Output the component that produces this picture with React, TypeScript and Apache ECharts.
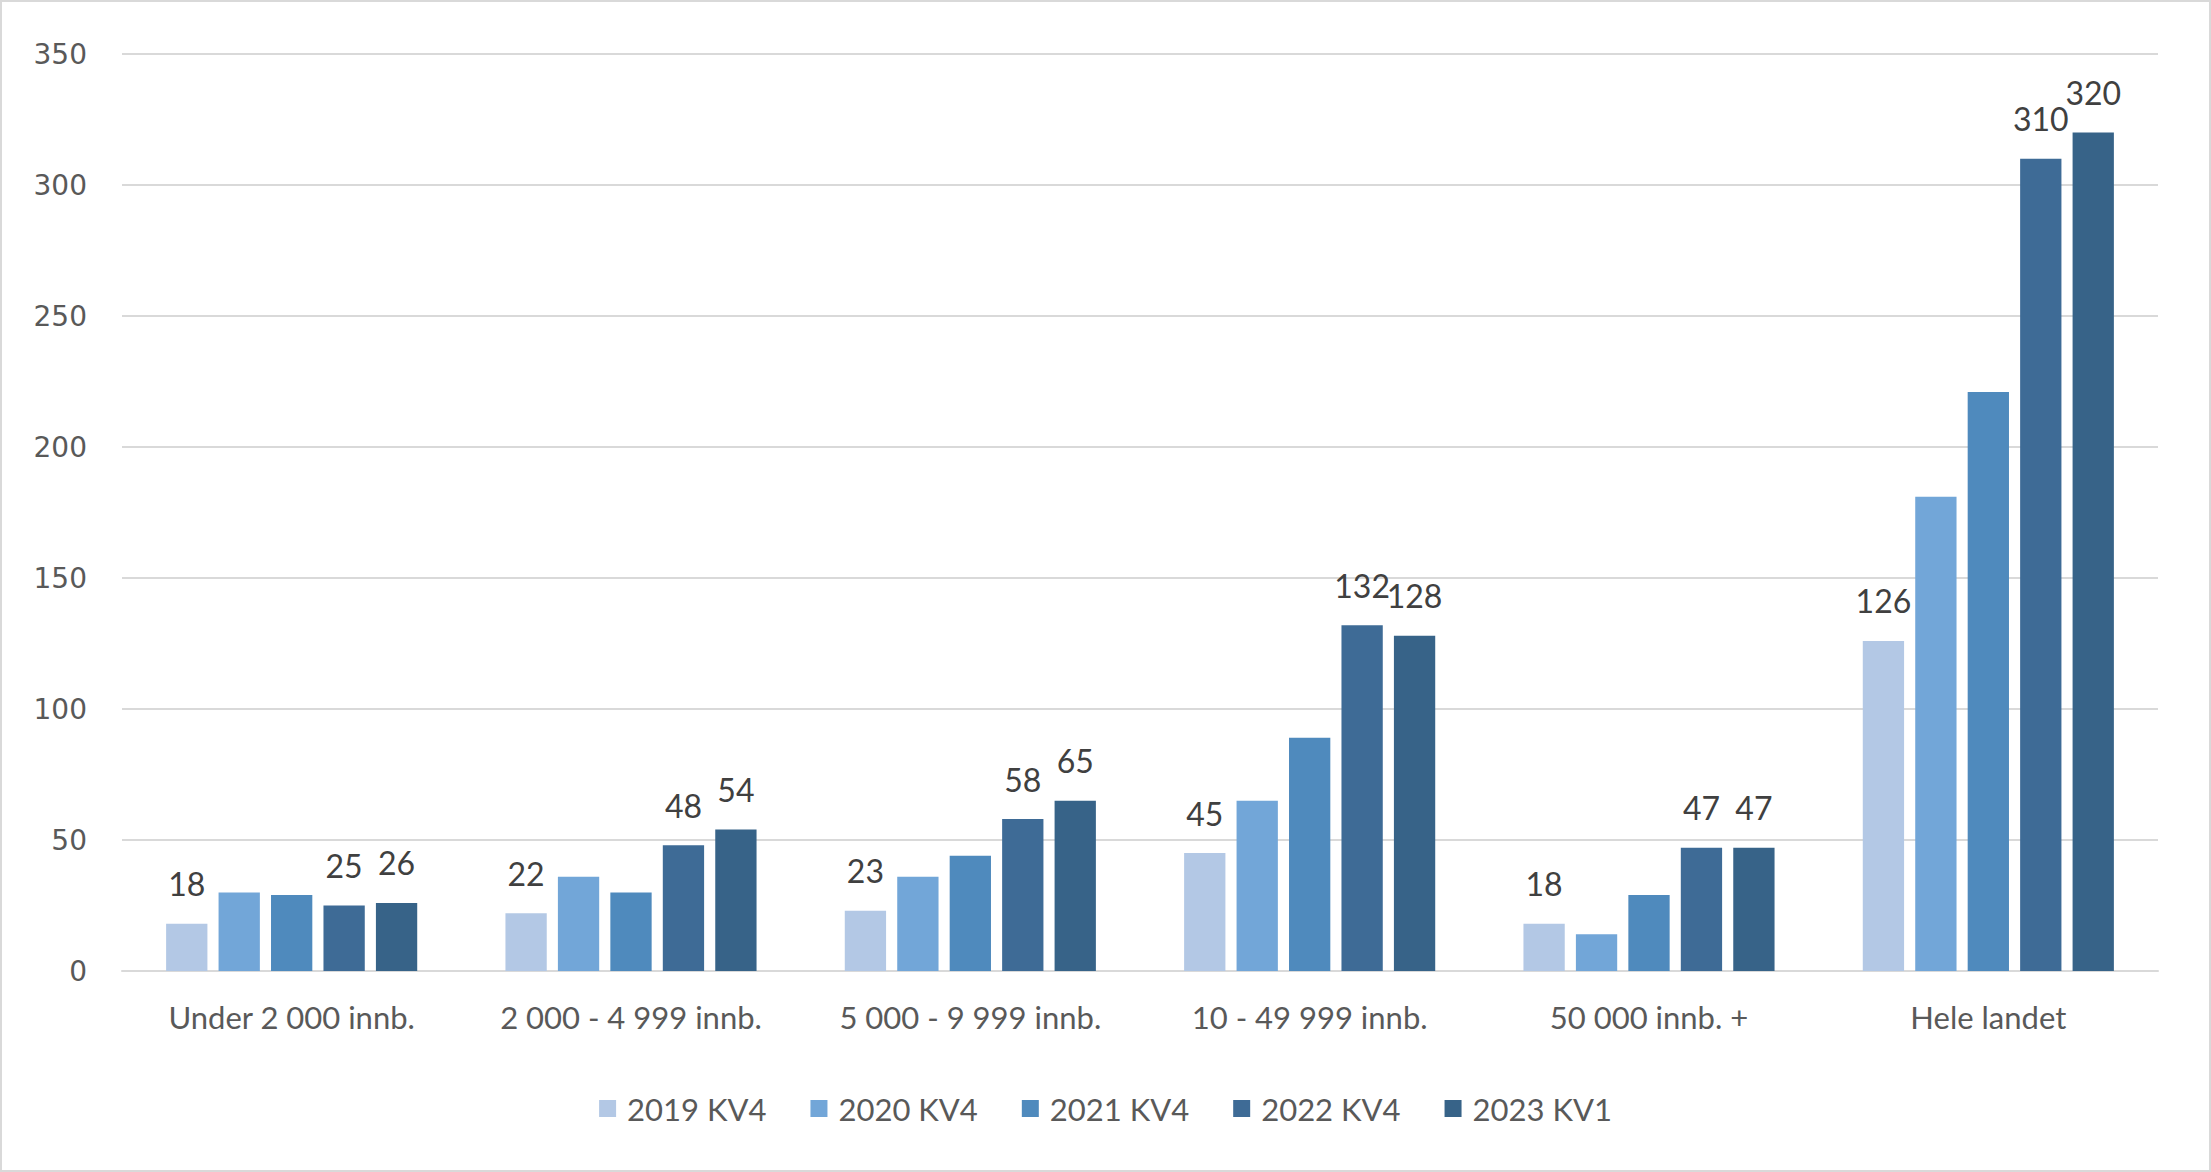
import React, { useEffect, useRef } from "react";
import * as echarts from "echarts";

const categories = [
  "Under 2 000 innb.",
  "2 000 - 4 999 innb.",
  "5 000 - 9 999 innb.",
  "10 - 49 999 innb.",
  "50 000 innb. +",
  "Hele landet",
];
const seriesNames = ["2019 KV4", "2020 KV4", "2021 KV4", "2022 KV4", "2023 KV1"];
const values2019 = [18, 22, 23, 45, 18, 126];
const values2020 = [30, 36, 36, 65, 14, 181];
const values2021 = [29, 30, 44, 89, 29, 221];
const values2022 = [25, 48, 58, 132, 47, 310];
const values2023 = [26, 54, 65, 128, 47, 320];
const allValues = [values2019, values2020, values2021, values2022, values2023];
const showLabels = [true, false, false, true, true];
const colors = ["#b3c8e5", "#72a6d8", "#4f8abd", "#3e6b96", "#376388"];
const yTicks = { min: 0, max: 350, interval: 50 };

export default function App() {
  const ref = useRef<HTMLDivElement>(null);
  useEffect(() => {
    document.body.style.margin = "0";
    if (!ref.current) return;
    const chart = echarts.init(ref.current, null, { renderer: "svg" });
    const font = "Lato, 'Open Sans', sans-serif";
    chart.setOption({
      animation: false,
      backgroundColor: "#ffffff",
      color: colors,
      grid: { left: 120, right: 51, top: 52, bottom: 199 },
      legend: {
        data: seriesNames,
        top: 1086,
        left: "center",
        itemWidth: 17,
        itemHeight: 17,
        itemGap: 44,
        icon: "rect",
        textStyle: { fontFamily: font, fontSize: 31, color: "#595959", padding: [0, 0, 0, 6] },
      },
      xAxis: {
        type: "category",
        data: categories,
        axisLine: { lineStyle: { color: "#d9d9d9", width: 2 } },
        axisTick: { show: false },
        axisLabel: { interval: 0, fontFamily: font, fontSize: 31, color: "#595959", margin: 30 },
      },
      yAxis: {
        type: "value",
        min: yTicks.min,
        max: yTicks.max,
        interval: yTicks.interval,
        axisLine: { show: false },
        axisTick: { show: false },
        splitLine: { lineStyle: { color: "#d9d9d9", width: 2 } },
        axisLabel: { fontFamily: "'DejaVu Sans', sans-serif", fontSize: 28, color: "#595959", margin: 35 },
      },
      series: seriesNames.map((name, i) => ({
        name,
        type: "bar",
        data: allValues[i],
        barGap: "27%",
        barCategoryGap: "26%",
        itemStyle: { color: colors[i] },
        label: {
          show: showLabels[i],
          position: "top",
          distance: 24,
          fontFamily: font,
          fontSize: 32,
          color: "#404040",
        },
      })),
    });
    return () => chart.dispose();
  }, []);
  return (
    <div
      ref={ref}
      style={{ width: 2211, height: 1172, boxSizing: "border-box", border: "2px solid #d9d9d9" }}
    />
  );
}
